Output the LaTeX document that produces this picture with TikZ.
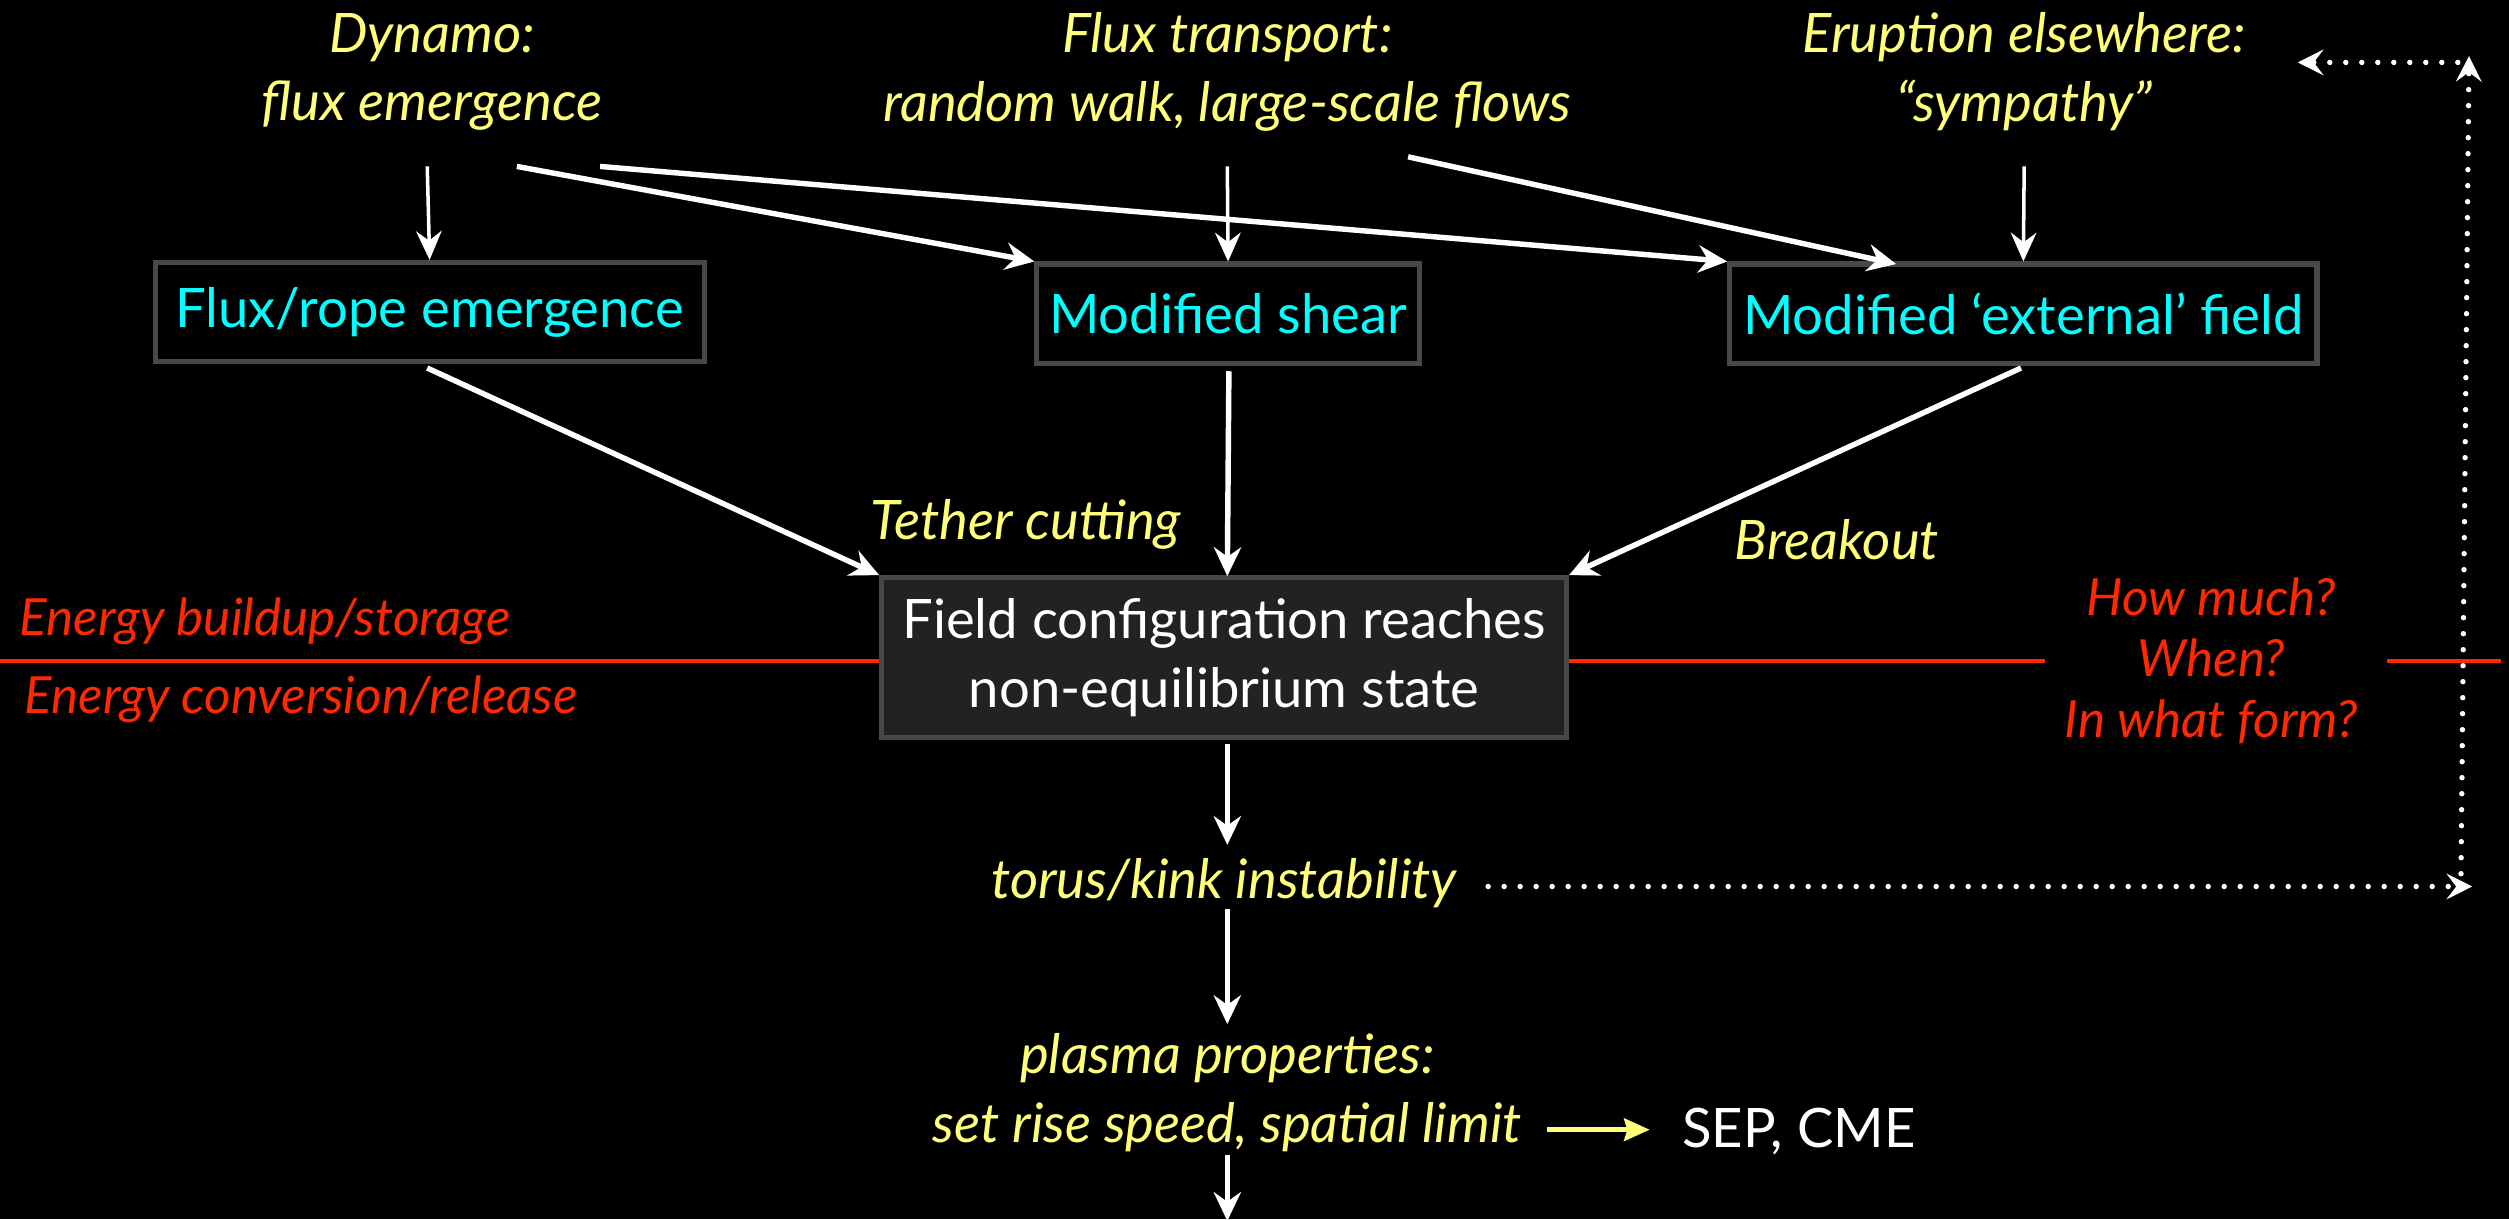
\documentclass[tikz,border=0pt]{standalone}
\usepackage{fontspec}
\setmainfont{Lato}
\usetikzlibrary{arrows.meta,calc}
\definecolor{ylw}{RGB}{255,255,120}
\definecolor{cyn}{RGB}{0,255,255}
\definecolor{rd}{RGB}{255,40,0}
\definecolor{bordergray}{RGB}{72,72,72}
\definecolor{boxfill}{RGB}{34,34,34}
\tikzset{
  txt/.style={font=\fontsize{17}{21.5}\selectfont\itshape, text=ylw, align=center, inner sep=0pt},
  redtxt/.style={font=\fontsize{16}{19}\selectfont\itshape, text=rd, align=center, inner sep=0pt},
  cbox/.style={draw=bordergray, line width=1.6pt, fill=black, text=cyn, font=\fontsize{17}{21.5}\selectfont, minimum height=31pt, inner sep=0pt},
  mainbox/.style={draw=bordergray, line width=1.6pt, fill=boxfill, text=white, align=center, font=\fontsize{17}{21.5}\selectfont, minimum width=214pt, minimum height=50pt, inner sep=0pt},
  thinarr/.style={draw=white, line width=1.1pt, -{Stealth[length=9pt,width=8pt,inset=3pt]}},
  thickarr/.style={draw=white, line width=1.7pt, -{Stealth[length=9pt,width=8.5pt,inset=3pt]}},
  dotarr/.style={draw=white, line width=1.7pt, line cap=round, dash pattern=on 0pt off 5pt, -{Stealth[length=8pt,width=8pt,inset=3pt]}},
  redline/.style={draw=rd, line width=1.1pt}
}
\begin{document}
\begin{tikzpicture}[x=0.5pt,y=-0.5pt]
\fill[black] (0,0) rectangle (1568,762);
\useasboundingbox (0,0) rectangle (1568,762);

% top sources
\node[txt] (dyn) at (270,45) {Dynamo:\\flux emergence};
\node[txt] (ftr) at (767,45) {Flux transport:\\random walk, large-scale flows};
\node[txt] (eru) at (1265,45) {Eruption elsewhere:\\“sympathy”};

% cyan boxes
\node[cbox, minimum width=171.5pt] (b1) at (268.5,195) {Flux/rope emergence};
\node[cbox, minimum width=119.5pt] (b2) at (767.5,196) {Modified shear};
\node[cbox, minimum width=183.5pt] (b3) at (1264.5,196) {Modified ‘external’ field};

% central box
\node[mainbox] (cen) at (765,411) {Field configuration reaches\\non-equilibrium state};

% labels
\node[txt] (tet) at (641,328) {Tether cutting};
\node[txt] (brk) at (1148,337) {Breakout};
\node[txt] (tor) at (765,552) {torus/kink instability};
\node[txt] (pla) at (767,683) {plasma properties:\\set rise speed, spatial limit};
\node[font=\fontsize{17}{21.5}\selectfont, text=white, anchor=west, inner sep=0pt] (sep) at (1051,707) {SEP, CME};

\node[redtxt, anchor=west] (ebs) at (12,388) {Energy buildup/storage};
\node[redtxt, anchor=west] (ecr) at (15,437) {Energy conversion/release};
\node[redtxt] (how) at (1382,413) {How much?\\When?\\In what form?};

% coordinates
\coordinate (d1) at (267,104);
\coordinate (d2) at (323,104);
\coordinate (d3) at (375,104);
\coordinate (f1) at (767,104);
\coordinate (f2) at (880,98);
\coordinate (f2e) at (1185,165);
\coordinate (e1) at (1265,104);
\coordinate (b1s) at (267,230);
\coordinate (b2s) at (768,232);
\coordinate (b3s) at (1263,230);
\coordinate (cn) at (767,360);
\coordinate (cs) at (767,465);
\coordinate (tn) at (767,528);
\coordinate (ts) at (767,568);
\coordinate (pn) at (767,640);
\coordinate (ps) at (767,722);
\coordinate (bot) at (767,763);
\coordinate (ya) at (967,706);
\coordinate (yb) at (1031,706);
\coordinate (dotA) at (930,554);
\coordinate (dotB) at (1545,554);
\coordinate (dotC) at (1538,546);
\coordinate (dotD) at (1543,35);
\coordinate (dotE) at (1536,39);
\coordinate (dotF) at (1436,39);
\coordinate (rl0) at (0,413);
\coordinate (rl1) at (1278,413);
\coordinate (rl2) at (1492,413);
\coordinate (rl3) at (1563,413);

% arrows top
\draw[thinarr] (d1) -- (b1.north);
\draw[thickarr] (d2) -- (b2.north west);
\draw[thickarr] (d3) -- (b3.north west);
\draw[thinarr] (f1) -- (b2.north);
\draw[thickarr] (f2) -- (f2e);
\draw[thinarr] (e1) -- (b3.north);

% to central
\draw[thickarr] (b1s) -- (cen.north west);
\draw[thickarr] (b2s) -- (cn);
\draw[thickarr] (b3s) -- (cen.north east);

% downward chain
\draw[thickarr] (cs) -- (tn);
\draw[thickarr] (ts) -- (pn);
\draw[thickarr] (ps) -- (bot);
\draw[draw=ylw, line width=1.6pt, -{Stealth[length=8pt,width=7pt,inset=1pt]}] (ya) -- (yb);

% red lines
\draw[redline] (rl0) -- (cen.west |- rl0);
\draw[redline] (cen.east |- rl0) -- (rl1);
\draw[redline] (rl2) -- (rl3);

% dotted feedback
\draw[dotarr] (dotA) -- (dotB);
\draw[dotarr] (dotC) -- (dotD);
\draw[dotarr] (dotE) -- (dotF);
\end{tikzpicture}
\end{document}
